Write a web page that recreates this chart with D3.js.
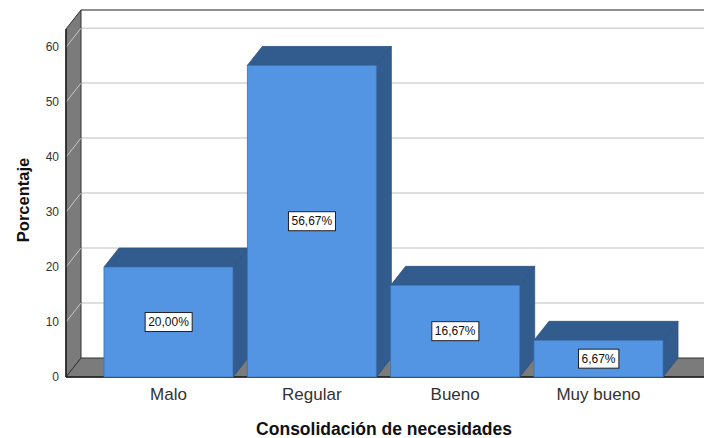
<!DOCTYPE html>
<html><head><meta charset="utf-8">
<script src="https://cdn.jsdelivr.net/npm/d3@7"></script>
<style>body{margin:0;background:#fff}svg{display:block}</style>
</head><body>
<script>
const categories = ["Malo", "Regular", "Bueno", "Muy bueno"];
const percentages = [20.00, 56.67, 16.67, 6.67];
const valueLabels = ["20,00%", "56,67%", "16,67%", "6,67%"];
const yTicks = [0, 10, 20, 30, 40, 50, 60];
const yTitle = "Porcentaje";
const xTitle = "Consolidación de necesidades";

const W = 704, H = 438;
const DX = 15, DY = -19;
const x0 = 66, x1 = 701, frameRight = 735;
const font = "'Liberation Sans', Arial, sans-serif";

const svg = d3.select("body").append("svg").attr("width", W).attr("height", H);

const y = d3.scaleLinear().domain([0, 63.3]).range([377, 29]);
const x = d3.scaleBand().domain(categories).range([x0, x1]).paddingInner(0.1).paddingOuter(0.265);

const gray = "#7b7b7b";
// back wall
svg.append("rect").attr("x", x0 + DX).attr("y", y(63.3) + DY)
  .attr("width", frameRight - x0).attr("height", y(0) - y(63.3)).attr("fill", "#fff");
// gridlines on back wall
svg.selectAll(".grid").data(yTicks.filter(d => d > 0)).join("line")
  .attr("x1", x0 + DX).attr("x2", frameRight + DX)
  .attr("y1", d => y(d) + DY).attr("y2", d => y(d) + DY)
  .attr("stroke", "#d4d4d4").attr("stroke-width", 1.5);
// top border of back wall
svg.append("line").attr("x1", x0 + DX).attr("x2", frameRight + DX)
  .attr("y1", y(63.3) + DY).attr("y2", y(63.3) + DY).attr("stroke", "#222").attr("stroke-width", 1.2);
// side wall
svg.append("polygon").attr("points", [
  [x0, y(63.3)], [x0 + DX, y(63.3) + DY], [x0 + DX, y(0) + DY], [x0, y(0)]
].map(p => p.join(",")).join(" ")).attr("fill", gray).attr("stroke", "#333").attr("stroke-width", 1);
// ticks on side wall
svg.selectAll(".sidetick").data(yTicks.filter(d => d > 0)).join("line")
  .attr("x1", x0).attr("x2", x0 + DX)
  .attr("y1", d => y(d)).attr("y2", d => y(d) + DY)
  .attr("stroke", "#c8c8c8").attr("stroke-width", 1);
// floor
svg.append("polygon").attr("points", [
  [x0, y(0)], [x0 + DX, y(0) + DY], [frameRight + DX, y(0) + DY], [frameRight, y(0)]
].map(p => p.join(",")).join(" ")).attr("fill", gray).attr("stroke", "#333").attr("stroke-width", 1);
svg.append("line").attr("x1", x0).attr("x2", frameRight).attr("y1", y(0)).attr("y2", y(0))
  .attr("stroke", "#222").attr("stroke-width", 1.5);
svg.append("line").attr("x1", x0).attr("x2", x0).attr("y1", y(63.3)).attr("y2", y(0))
  .attr("stroke", "#222").attr("stroke-width", 1.5);

// y tick labels
svg.selectAll(".ylab").data(yTicks).join("text")
  .attr("x", 59).attr("y", d => y(d)).attr("dy", "0.35em")
  .attr("text-anchor", "end").attr("font-family", font).attr("font-size", 12)
  .attr("fill", "#333").text(d => d);

// bars
const front = "#5394e3", dark = "#335c8e";
const bars = svg.selectAll(".bar").data(categories).join("g");
bars.each(function(c, i) {
  const g = d3.select(this);
  const bx = x(c), bw = x.bandwidth(), top = y(percentages[i]), bot = y(0);
  g.append("polygon").attr("points", [
    [bx + bw, top], [bx + bw + DX, top + DY], [bx + bw + DX, bot + DY], [bx + bw, bot]
  ].map(p => p.join(",")).join(" ")).attr("fill", dark).attr("stroke", "#2c5080").attr("stroke-width", 0.8);
  g.append("polygon").attr("points", [
    [bx, top], [bx + DX, top + DY], [bx + bw + DX, top + DY], [bx + bw, top]
  ].map(p => p.join(",")).join(" ")).attr("fill", dark).attr("stroke", "#2c5080").attr("stroke-width", 0.8);
  g.append("rect").attr("x", bx).attr("y", top).attr("width", bw).attr("height", bot - top)
    .attr("fill", front).attr("stroke", "#3f72b0").attr("stroke-width", 0.8);
  const cx = bx + bw / 2, cy = (top + bot) / 2;
  const t = g.append("text").attr("x", cx).attr("y", cy).attr("dy", "0.35em")
    .attr("text-anchor", "middle").attr("font-family", font).attr("font-size", 12)
    .attr("fill", "#111").text(valueLabels[i]);
  const bb = t.node().getBBox();
  g.insert("rect", "text").attr("x", bb.x - 3).attr("y", cy - 9.5).attr("width", bb.width + 6).attr("height", 19)
    .attr("fill", "#fff").attr("stroke", "#222").attr("stroke-width", 1);
});

// x labels
svg.selectAll(".xlab").data(categories).join("text")
  .attr("x", d => x(d) + x.bandwidth() / 2).attr("y", 400)
  .attr("text-anchor", "middle").attr("font-family", font).attr("font-size", 17)
  .attr("fill", "#333").text(d => d);

// titles
svg.append("text").attr("x", 384).attr("y", 435).attr("text-anchor", "middle")
  .attr("font-family", font).attr("font-size", 17.5).attr("font-weight", "bold")
  .attr("fill", "#111").text(xTitle);
svg.append("text").attr("transform", "translate(29,200) rotate(-90)").attr("text-anchor", "middle")
  .attr("font-family", font).attr("font-size", 16.5).attr("font-weight", "bold")
  .attr("fill", "#111").text(yTitle);
</script>
</body></html>
